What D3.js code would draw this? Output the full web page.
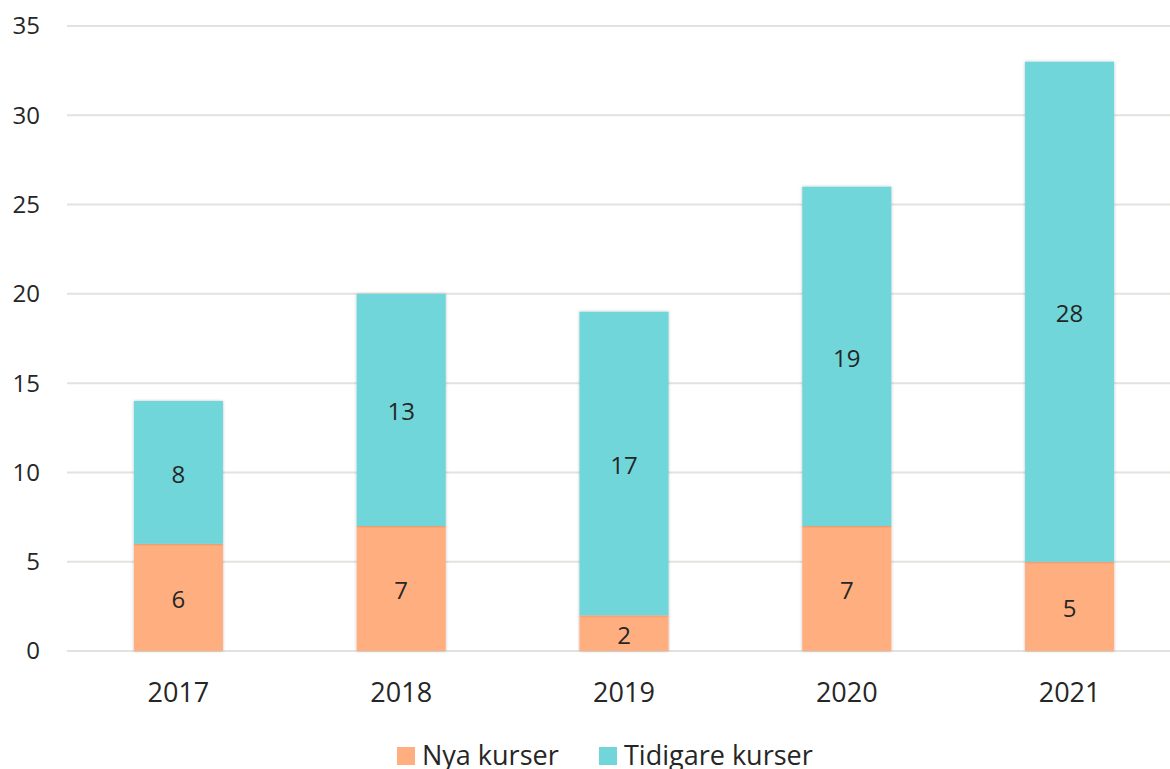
<!DOCTYPE html>
<html>
<head>
<meta charset="utf-8">
<script src="https://cdn.jsdelivr.net/npm/d3@7"></script>
<style>
  body { margin: 0; background: #fff; }
  text { font-family: "Open Sans", sans-serif; fill: #262626; }
</style>
</head>
<body>
<div id="chart"></div>
<script>
// data
let years = ["2017", "2018", "2019", "2020", "2021"];
let nyaKurser = [6, 7, 2, 7, 5];
let tidigareKurser = [8, 13, 17, 19, 28];
let seriesNames = ["Nya kurser", "Tidigare kurser"];
let seriesColors = ["#FFAE7F", "#70D6D9"];
let yTicks = [0, 5, 10, 15, 20, 25, 30, 35];

let svgWidth = 1170;
let svgHeight = 769;

let svg = d3.select("#chart")
  .append("svg")
  .attr("width", svgWidth)
  .attr("height", svgHeight);

// soft shadow for the bars
let defs = svg.append("defs");
let filt = defs.append("filter").attr("id", "shadow")
  .attr("x", "-10%").attr("y", "-10%").attr("width", "120%").attr("height", "120%");
filt.append("feDropShadow")
  .attr("dx", 0).attr("dy", 0).attr("stdDeviation", 1.5)
  .attr("flood-color", "#000").attr("flood-opacity", 0.25);

let xScale = d3.scaleBand()
  .domain(years)
  .range([67, 1181])
  .paddingInner(0.6)
  .paddingOuter(0.3);

let yScale = d3.scaleLinear()
  .domain([0, 35])
  .range([651, 26]);

// gridlines
svg.append("g")
  .selectAll("line")
  .data(yTicks)
  .enter()
  .append("line")
  .attr("x1", 67)
  .attr("x2", svgWidth)
  .attr("y1", d => yScale(d))
  .attr("y2", d => yScale(d))
  .attr("stroke", "#E2E2DE")
  .attr("stroke-width", 2);

// y labels
svg.append("g")
  .selectAll("text")
  .data(yTicks)
  .enter()
  .append("text")
  .attr("x", 40)
  .attr("y", d => yScale(d))
  .attr("dy", "0.35em")
  .attr("text-anchor", "end")
  .style("font-size", "24px")
  .text(d => d);

// stack the series
let table = years.map((y, i) => ({ year: y, nya: nyaKurser[i], tidigare: tidigareKurser[i] }));
let stacked = d3.stack().keys(["nya", "tidigare"])(table);

let layers = svg.append("g")
  .selectAll("g")
  .data(stacked)
  .enter()
  .append("g")
  .attr("fill", (d, i) => seriesColors[i]);

layers.selectAll("rect")
  .data(d => d)
  .enter()
  .append("rect")
  .attr("x", d => xScale(d.data.year))
  .attr("width", xScale.bandwidth())
  .attr("y", d => yScale(d[1]))
  .attr("height", d => yScale(d[0]) - yScale(d[1]))
  .attr("filter", "url(#shadow)");

// value labels
layers.selectAll("text")
  .data(d => d)
  .enter()
  .append("text")
  .attr("x", d => xScale(d.data.year) + xScale.bandwidth() / 2)
  .attr("y", d => (yScale(d[0]) + yScale(d[1])) / 2 + 2)
  .attr("dy", "0.35em")
  .attr("text-anchor", "middle")
  .style("font-size", "24px")
  .text(d => d[1] - d[0]);

// year labels
svg.append("g")
  .selectAll("text")
  .data(years)
  .enter()
  .append("text")
  .attr("x", d => xScale(d) + xScale.bandwidth() / 2)
  .attr("y", 693)
  .attr("dy", "0.35em")
  .attr("text-anchor", "middle")
  .style("font-size", "27px")
  .text(d => d);

// legend
let legendX = [397, 599];
let legend = svg.append("g")
  .selectAll("g")
  .data(seriesNames)
  .enter()
  .append("g")
  .attr("transform", (d, i) => `translate(${legendX[i]},747)`);

legend.append("rect")
  .attr("width", 18)
  .attr("height", 18)
  .attr("fill", (d, i) => seriesColors[i]);

legend.append("text")
  .attr("x", 25)
  .attr("y", 9)
  .attr("dy", "0.35em")
  .style("font-size", "27px")
  .text(d => d);
</script>
</body>
</html>
